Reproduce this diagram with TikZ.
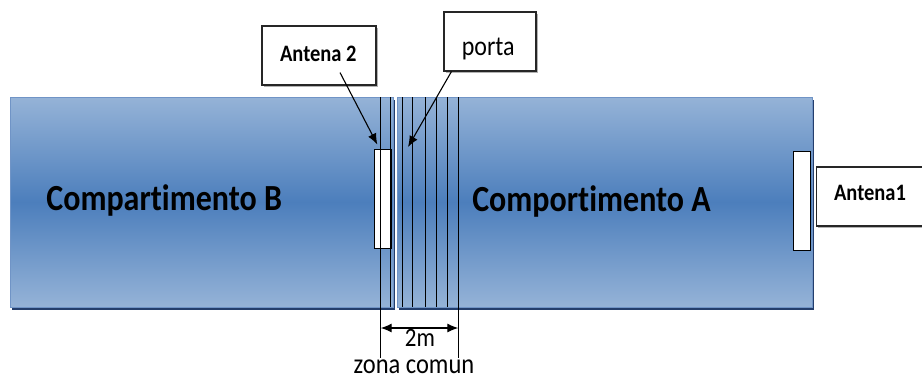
\documentclass[tikz,border=0pt]{standalone}
\usepackage{fontspec}
\setmainfont{Carlito}[Ligatures=NoCommon]
\usepackage{graphicx}
\usepackage{tikz}
\usetikzlibrary{positioning,arrows.meta,calc,shadows}
\usepackage{xcolor}
\definecolor{wagonlight}{RGB}{149,179,215}
\definecolor{wagondark}{RGB}{76,126,188}
\definecolor{wagonedge}{RGB}{112,148,198}
\definecolor{wagonshade}{RGB}{36,62,108}
\newcommand{\tallt}[1]{\scalebox{1}[1.15]{#1}}

\begin{document}
\begin{tikzpicture}[
    x=1pt, y=-1pt,
    wagon/.style={draw=wagonedge, line width=1pt, top color=wagonlight, bottom color=wagonlight, middle color=wagondark, inner sep=0pt, general shadow={fill=wagonshade, shadow xshift=2pt, shadow yshift=-3pt}},
    wagontext/.style={anchor=base, inner sep=0pt, font=\fontsize{32}{36}\selectfont\bfseries},
    antbox/.style={draw=black, fill=white, line width=1pt, inner sep=0pt, minimum width=17pt, minimum height=99pt},
    lblbox/.style={draw=black!85, fill=white, line width=1.1pt, inner sep=0pt, minimum height=59pt, general shadow={fill=black!30, shadow xshift=1.5pt, shadow yshift=-1.5pt}},
    lbltext/.style={anchor=base, inner sep=0pt, font=\fontsize{20.5}{24}\selectfont\bfseries},
    plaintext/.style={anchor=base, inner sep=0pt, font=\fontsize{24}{28}\selectfont},
    doorline/.style={draw=black, line width=0.9pt},
    pointer/.style={draw=black, line width=1.1pt, -{Latex[length=11pt,width=9pt]}},
    dimline/.style={draw=black, line width=1.1pt, {Latex[length=11pt,width=9pt]}-{Latex[length=11pt,width=9pt]}}
]

    \useasboundingbox (0,0) rectangle (922,381);

    % Compartimenti (disegnati per primi)
    \node[wagon, minimum width=383pt, minimum height=210pt] (compB) at (201.5,202) {};
    \node[wagon, minimum width=415pt, minimum height=210pt] (compA) at (604.5,202) {};

    \node[wagontext] (txtB) at (164.2,210) {\tallt{Compartimento B}};
    \node[wagontext] (txtA) at (591.5,211.5) {\tallt{Comportimento A}};

    % Antenne
    \node[antbox] (ant2) at (383.3,198.5) {};
    \node[antbox] (ant1) at (802.3,200.5) {};

    % Linee della porta
    \foreach \x in {390.7, 402.3, 412.3, 425, 436.7, 447.3} {
        \draw[doorline] (\x,97) -- (\x,307);
    }
    \draw[doorline] (380.7,97) -- (380.7,358);
    \draw[doorline] (458.3,97) -- (458.3,358);

    % Cartigli
    \node[lblbox, minimum width=114pt] (lbl2) at (319,55.5) {};
    \node[lbltext] at (318.3,61.7) {\tallt{Antena 2}};

    \node[lblbox, minimum width=92pt] (porta) at (490,41.5) {};
    \node[plaintext] at (488.3,55) {\tallt{porta}};

    \node[lblbox, minimum width=110pt, anchor=west] (lbl1) at (816,196.5) {};
    \node[lbltext] at (870,200) {\tallt{Antena1}};

    % Frecce
    \coordinate (doorpt) at (408,147);
    \draw[pointer] ([shift={(21,-13)}]lbl2.south) -- ([shift={(3,-4)}]ant2.north west);
    \draw[pointer] ([shift={(8,0)}]porta.south west) -- (doorpt);

    % Zona comune (quota)
    \coordinate (zl) at (380.7,328);
    \coordinate (zr) at (458.3,328);
    \draw[dimline] (zl) -- (zr);
    \node[plaintext, font=\fontsize{23}{27}\selectfont] (dim) at (420,346.7) {\tallt{2m}};
    \node[plaintext, font=\fontsize{24.5}{28}\selectfont] (zona) at (414,373.5) {\tallt{zona comun}};

\end{tikzpicture}
\end{document}
